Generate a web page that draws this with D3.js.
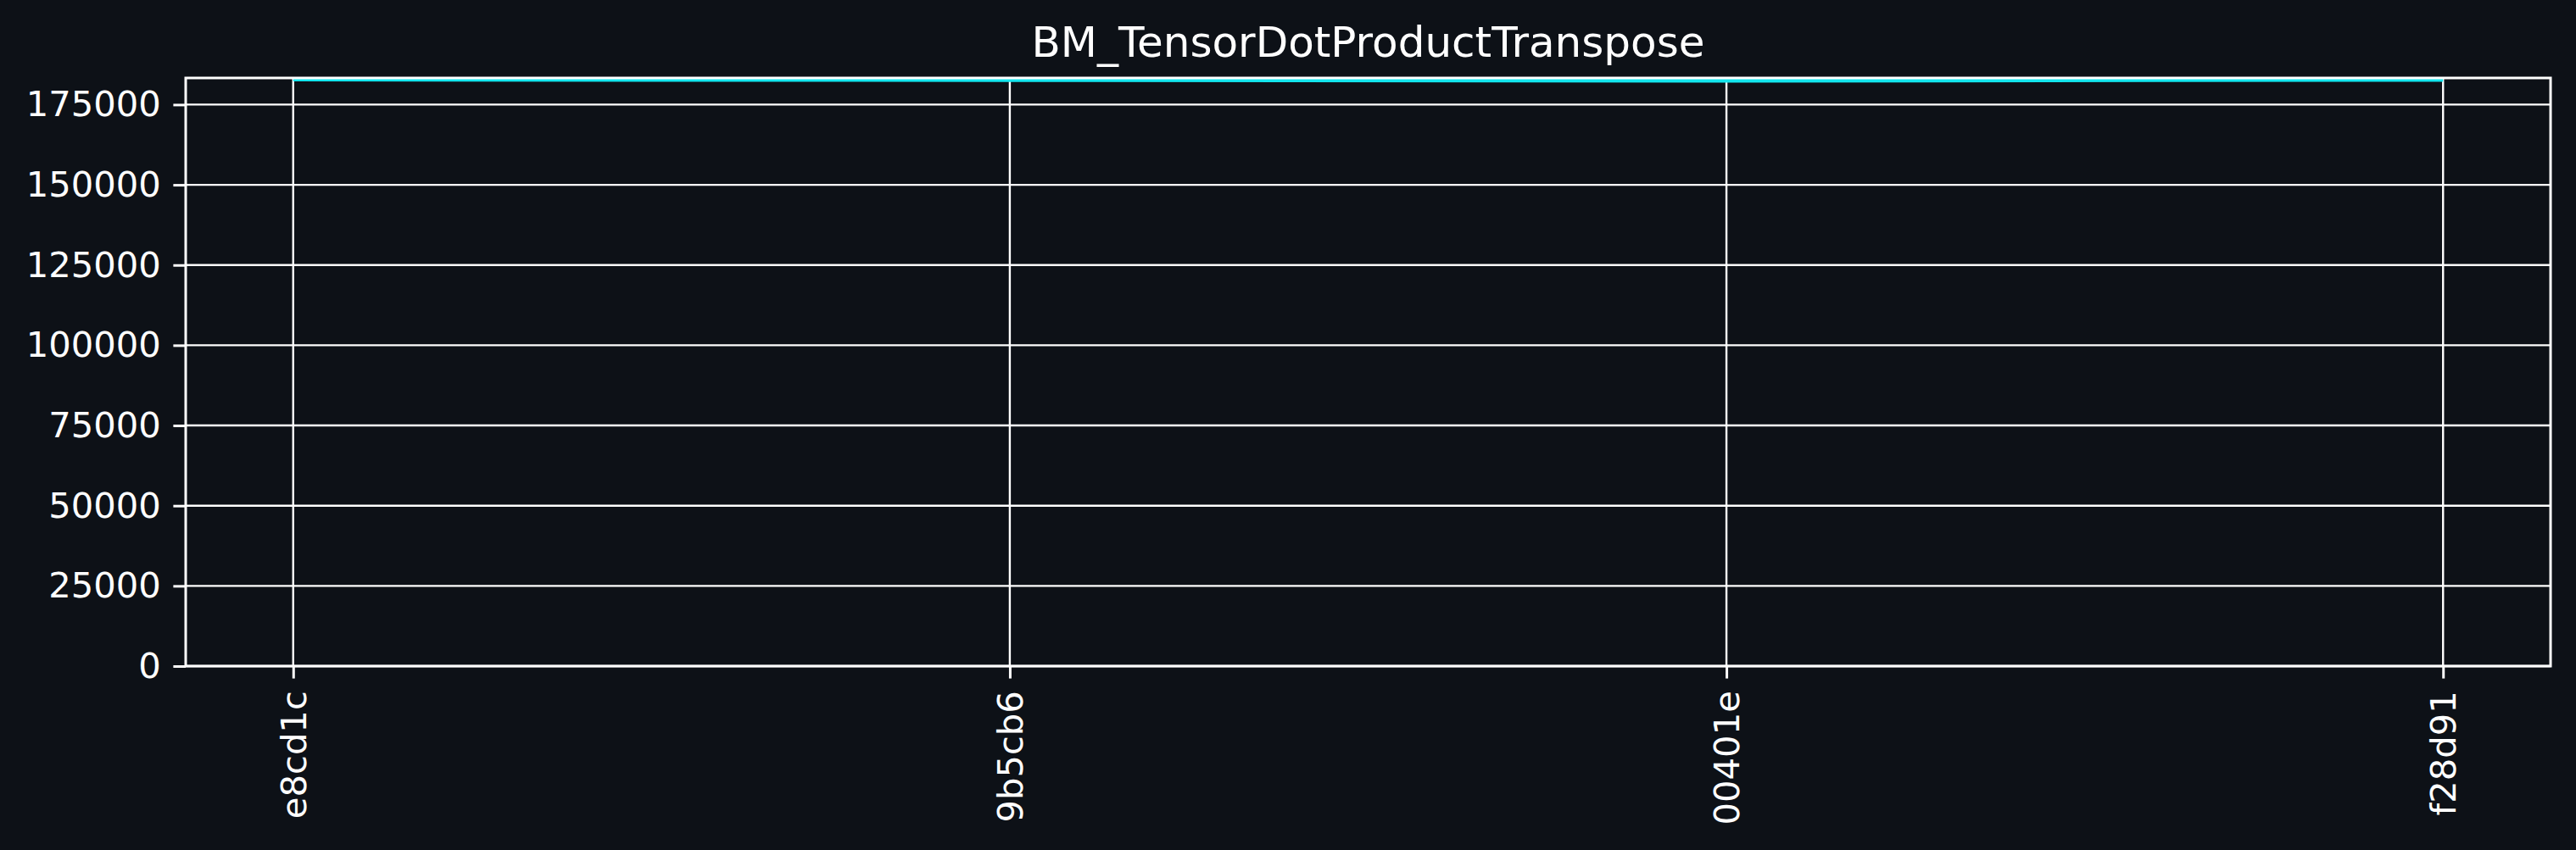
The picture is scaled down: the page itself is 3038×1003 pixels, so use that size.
<!DOCTYPE html>
<html><head><meta charset="utf-8">
<script src="https://cdn.jsdelivr.net/npm/d3@7"></script>
<style>
html,body{margin:0;padding:0;background:#0d1117;}
svg{display:block;}
text{font-family:"DejaVu Sans",sans-serif;fill:#ffffff;}
</style></head>
<body>
<script>
const title = "BM_TensorDotProductTranspose";
const categories = ["e8cd1c", "9b5cb6", "00401e", "f28d91"];
const values = [182900, 182700, 182500, 182800];
const yTicks = [0, 25000, 50000, 75000, 100000, 125000, 150000, 175000];
const yMax = 183300;

const W = 3038, H = 1003;
const m = {left: 219, right: 3038 - 3008, top: 92, bottom: 1003 - 786};
const svg = d3.select("body").append("svg").attr("width", W).attr("height", H);
svg.append("rect").attr("width", W).attr("height", H).attr("fill", "#0d1117");

const x = d3.scalePoint().domain(categories).range([m.left, W - m.right]).padding(0.15);
const y = d3.scaleLinear().domain([0, yMax]).range([H - m.bottom, m.top]);

const g = svg.append("g");
// grid
g.selectAll(".hg").data(yTicks).join("line")
  .attr("x1", m.left).attr("x2", W - m.right)
  .attr("y1", d => y(d)).attr("y2", d => y(d))
  .attr("stroke", "#ffffff").attr("stroke-width", 2.4);
g.selectAll(".vg").data(categories).join("line")
  .attr("x1", d => x(d)).attr("x2", d => x(d))
  .attr("y1", m.top).attr("y2", H - m.bottom)
  .attr("stroke", "#ffffff").attr("stroke-width", 2.4);

// line
const line = d3.line().x((d, i) => x(categories[i])).y(d => y(d));
g.append("path").datum(values).attr("d", line)
  .attr("fill", "none").attr("stroke", "#13e6ee").attr("stroke-width", 5);

// axes
const yAxis = d3.axisLeft(y).tickValues(yTicks).tickSize(14.6).tickPadding(14.6).tickFormat(d3.format("d"));
const ya = svg.append("g").attr("transform", `translate(${m.left},0)`).call(yAxis);
ya.select(".domain").remove();
ya.selectAll("line").attr("stroke", "#ffffff").attr("stroke-width", 3);
ya.selectAll("text").attr("font-size", 41.7).attr("fill", "#ffffff").attr("font-family", "DejaVu Sans");

const xAxis = d3.axisBottom(x).tickSize(14.6).tickPadding(14.6);
const xa = svg.append("g").attr("transform", `translate(0,${H - m.bottom})`).call(xAxis);
xa.select(".domain").remove();
xa.selectAll("line").attr("stroke", "#ffffff").attr("stroke-width", 3);
xa.selectAll("text")
  .attr("font-size", 41.7).attr("fill", "#ffffff").attr("font-family", "DejaVu Sans")
  .attr("transform", "rotate(-90)")
  .attr("text-anchor", "end")
  .attr("x", -29.2).attr("y", 0).attr("dy", "0.35em");

// spines
svg.append("rect").attr("x", m.left).attr("y", m.top)
  .attr("width", W - m.left - m.right).attr("height", H - m.top - m.bottom)
  .attr("fill", "none").attr("stroke", "#ffffff").attr("stroke-width", 3);

svg.append("text").attr("x", (m.left + W - m.right) / 2).attr("y", 67)
  .attr("text-anchor", "middle").attr("font-size", 50).text(title);
</script>
</body></html>
